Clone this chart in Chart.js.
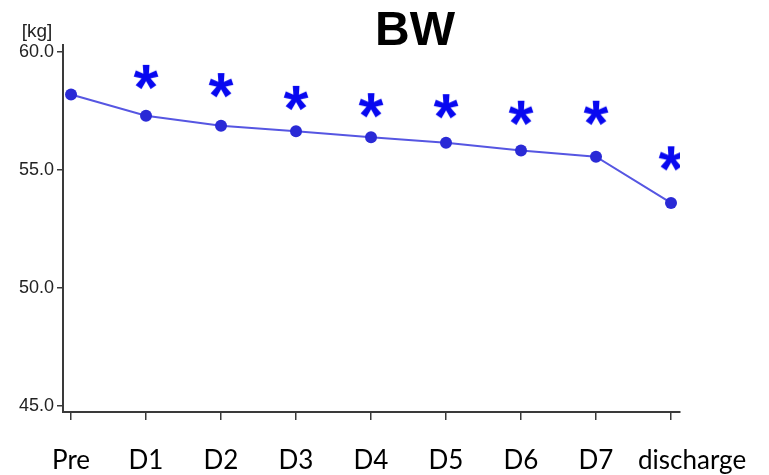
<!DOCTYPE html>
<html>
<head>
<meta charset="utf-8">
<title>BW</title>
<script src="https://cdn.jsdelivr.net/npm/chart.js@4/dist/chart.umd.min.js"></script>
<style>
  html, body { margin: 0; padding: 0; background: #fff; }
  #wrap { width: 769px; height: 475px; }
</style>
</head>
<body>
<div id="wrap"><canvas id="c" width="769" height="475"></canvas></div>
<script>
// Body weight over the hospital stay
const categories = ['Pre', 'D1', 'D2', 'D3', 'D4', 'D5', 'D6', 'D7', 'discharge'];
const bodyWeight = [58.2, 57.3, 56.88, 56.65, 56.39, 56.16, 55.83, 55.57, 53.61];
// Height (kg) at which each significance asterisk sits; none for the baseline
const asteriskLevel = [null, 58.95, 58.6, 58.06, 57.75, 57.71, 57.43, 57.43, 55.5];
const yTicks = [45, 50, 55, 60];

const lineColor = 'rgb(86, 86, 226)';
const pointColor = 'rgb(42, 42, 214)';
const starColor = 'rgb(8, 8, 240)';
const axisColor = '#3a3a3a';
const categoryFont = '26px Lato, "Open Sans", sans-serif';

// Bold asterisk glyph rendered once and used as a point style
function makeAsterisk() {
  const cv = document.createElement('canvas');
  cv.width = 44; cv.height = 44;
  const g = cv.getContext('2d');
  g.fillStyle = starColor;
  g.font = 'bold 64px "Liberation Sans", Arial, sans-serif';
  g.textAlign = 'center';
  g.textBaseline = 'alphabetic';
  const m = g.measureText('*');
  const baseY = cv.height / 2 + (m.actualBoundingBoxAscent - m.actualBoundingBoxDescent) / 2;
  g.fillText('*', cv.width / 2, baseY);
  return cv;
}
const asteriskImg = makeAsterisk();

const weightPoints = bodyWeight.map((v, i) => ({ x: i, y: v }));
const starPoints = asteriskLevel.map((v, i) => ({ x: i, y: v }));

// Title, unit label and the day labels under the axis
const headerText = {
  id: 'headerText',
  afterDraw(chart) {
    const ctx = chart.ctx;
    ctx.save();
    ctx.fillStyle = '#000';
    ctx.font = 'bold 48px "Liberation Sans", Arial, sans-serif';
    ctx.textAlign = 'center';
    ctx.textBaseline = 'alphabetic';
    ctx.fillText('BW', 415, 45);
    ctx.font = '19px "Liberation Sans", Arial, sans-serif';
    ctx.fillStyle = '#222';
    ctx.fillText('[kg]', 37, 37);

    // day labels: centred on their ticks, the last one starts just left of its tick
    const xs = chart.scales.x;
    const step = xs.getPixelForValue(1) - xs.getPixelForValue(0);
    ctx.font = categoryFont;
    ctx.fillStyle = '#000';
    ctx.textBaseline = 'alphabetic';
    const baseY = xs.bottom - 6;
    categories.forEach((label, i) => {
      const px = xs.getPixelForValue(i);
      if (i === categories.length - 1) {
        ctx.textAlign = 'left';
        ctx.fillText(label, px - step * 0.44, baseY);
      } else {
        ctx.textAlign = 'center';
        ctx.fillText(label, px, baseY);
      }
    });
    ctx.restore();
  }
};

new Chart(document.getElementById('c'), {
  type: 'line',
  data: {
    datasets: [
      {
        label: 'BW',
        data: weightPoints,
        borderColor: lineColor,
        borderWidth: 2,
        backgroundColor: pointColor,
        pointBackgroundColor: pointColor,
        pointBorderColor: pointColor,
        pointRadius: 6,
        pointBorderWidth: 0,
        tension: 0,
        order: 2
      },
      {
        label: 'significance',
        data: starPoints,
        showLine: false,
        pointStyle: asteriskImg,
        pointRadius: 12,
        order: 1
      }
    ]
  },
  plugins: [headerText],
  options: {
    responsive: false,
    animation: false,
    devicePixelRatio: 1,
    layout: { padding: { left: 0, top: 45, right: 89, bottom: 0 } },
    plugins: {
      legend: { display: false },
      tooltip: { enabled: false },
      title: { display: false }
    },
    scales: {
      x: {
        type: 'linear',
        min: -0.107,
        max: 8.12,
        afterBuildTicks(scale) {
          scale.ticks = categories.map((_, i) => ({ value: i }));
        },
        afterFit(scale) { scale.height = 63; },
        ticks: {
          display: false,
          autoSkip: false,
          maxRotation: 0
        },
        grid: {
          drawOnChartArea: false,
          drawTicks: true,
          tickLength: 8,
          color: axisColor,
          lineWidth: 1.5
        },
        border: { color: axisColor, width: 2 }
      },
      y: {
        min: 44.75,
        max: 60.3,
        afterBuildTicks(scale) {
          scale.ticks = yTicks.map(v => ({ value: v }));
        },
        afterFit(scale) { scale.width = 63; },
        ticks: {
          padding: 3,
          color: '#222',
          font: { family: '"Liberation Sans", Arial, sans-serif', size: 18 },
          callback: (v) => Number(v).toFixed(1)
        },
        grid: {
          drawOnChartArea: false,
          drawTicks: true,
          tickLength: 6,
          color: axisColor,
          lineWidth: 1.5
        },
        border: { color: axisColor, width: 2 }
      }
    }
  }
});
</script>
</body>
</html>
